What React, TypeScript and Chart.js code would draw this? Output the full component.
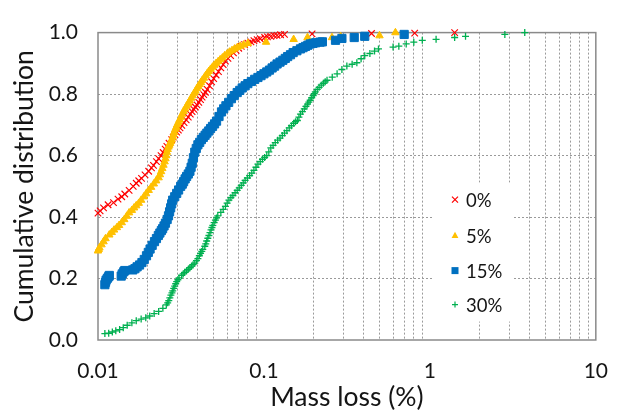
import React, { useEffect, useRef } from 'react';
import { Chart, registerables } from 'chart.js';

Chart.register(...registerables);

// ---- Series labels / ticks ----
const SERIES_LABELS = ['0%', '5%', '15%', '30%'];
const X_MAJOR = [0.01, 0.1, 1, 10];
const X_TICK_LABELS = ['0.01', '0.1', '1', '10'];
const X_MINOR_MULT = [2, 3, 4, 5, 6, 7, 8, 9];
const Y_TICKS = [0, 0.2, 0.4, 0.6, 0.8, 1.0];

// ---- 0% : [mass loss %, cumulative fraction] ----
const s0: [number, number][] = [
  [0.0100, 0.413], [0.0103, 0.420], [0.0108, 0.430], [0.0115, 0.440], [0.0124, 0.447], [0.0132, 0.458],
  [0.0139, 0.466], [0.0145, 0.475], [0.0154, 0.487], [0.0163, 0.500], [0.0170, 0.510], [0.0176, 0.518],
  [0.0183, 0.526], [0.0192, 0.537], [0.0202, 0.549], [0.0210, 0.560], [0.0216, 0.568], [0.0225, 0.580],
  [0.0232, 0.590], [0.0240, 0.600], [0.0247, 0.610], [0.0254, 0.621], [0.0260, 0.630], [0.0268, 0.640],
  [0.0278, 0.652], [0.0284, 0.660], [0.0291, 0.668], [0.0298, 0.676], [0.0305, 0.683], [0.0312, 0.690],
  [0.0320, 0.698], [0.0330, 0.707], [0.0340, 0.716], [0.0350, 0.725], [0.0360, 0.735], [0.0369, 0.743],
  [0.0378, 0.750], [0.0386, 0.758], [0.0395, 0.765], [0.0405, 0.773], [0.0415, 0.782], [0.0424, 0.790],
  [0.0434, 0.798], [0.0444, 0.806], [0.0455, 0.815], [0.0470, 0.827], [0.0484, 0.840], [0.0498, 0.850],
  [0.0515, 0.862], [0.0532, 0.873], [0.0550, 0.885], [0.0568, 0.896], [0.0586, 0.907], [0.0607, 0.916],
  [0.0630, 0.925], [0.0655, 0.934], [0.0680, 0.942], [0.0705, 0.949], [0.0730, 0.955], [0.0765, 0.961],
  [0.0800, 0.966], [0.0835, 0.970], [0.0870, 0.974], [0.0910, 0.977], [0.0950, 0.980], [0.1010, 0.984],
  [0.1050, 0.986], [0.1100, 0.988], [0.1150, 0.990], [0.1200, 0.991], [0.1260, 0.993], [0.1330, 0.994],
  [0.1950, 0.996], [0.4450, 0.997], [0.8100, 0.998], [1.4100, 1.000],
];

// ---- 5% ----
const s5: [number, number][] = [
  [0.0100, 0.290], [0.0101, 0.295], [0.0102, 0.300], [0.0105, 0.310], [0.0108, 0.320], [0.0111, 0.330],
  [0.0117, 0.342], [0.0121, 0.350], [0.0125, 0.358], [0.0130, 0.366], [0.0134, 0.373], [0.0139, 0.382],
  [0.0144, 0.392], [0.0149, 0.403], [0.0154, 0.414], [0.0160, 0.422], [0.0165, 0.430], [0.0170, 0.437],
  [0.0176, 0.445], [0.0182, 0.455], [0.0189, 0.466], [0.0195, 0.476], [0.0202, 0.487], [0.0209, 0.497],
  [0.0217, 0.508], [0.0224, 0.518], [0.0232, 0.528], [0.0236, 0.538], [0.0240, 0.548], [0.0244, 0.558],
  [0.0248, 0.569], [0.0252, 0.580], [0.0255, 0.590], [0.0258, 0.600], [0.0260, 0.611], [0.0263, 0.620],
  [0.0266, 0.628], [0.0269, 0.634], [0.0272, 0.640], [0.0275, 0.646], [0.0278, 0.652], [0.0282, 0.660],
  [0.0285, 0.668], [0.0288, 0.676], [0.0292, 0.685], [0.0296, 0.692], [0.0300, 0.700], [0.0305, 0.708],
  [0.0310, 0.716], [0.0316, 0.725], [0.0322, 0.735], [0.0328, 0.744], [0.0335, 0.752], [0.0342, 0.761],
  [0.0350, 0.770], [0.0357, 0.778], [0.0365, 0.787], [0.0372, 0.795], [0.0380, 0.803], [0.0387, 0.810],
  [0.0395, 0.818], [0.0402, 0.825], [0.0410, 0.832], [0.0417, 0.838], [0.0425, 0.845], [0.0435, 0.852],
  [0.0445, 0.860], [0.0455, 0.867], [0.0465, 0.874], [0.0477, 0.881], [0.0490, 0.888], [0.0502, 0.894],
  [0.0515, 0.900], [0.0530, 0.906], [0.0545, 0.912], [0.0562, 0.918], [0.0580, 0.925], [0.0600, 0.931],
  [0.0620, 0.937], [0.0642, 0.942], [0.0665, 0.947], [0.0692, 0.952], [0.0720, 0.956], [0.0755, 0.960],
  [0.0800, 0.965], [0.1030, 0.969], [0.1510, 0.978], [0.1830, 0.984], [0.2570, 0.984], [0.2900, 0.987],
  [0.4970, 0.990], [0.6200, 1.000],
];

// ---- 15% ----
const s15: [number, number][] = [
  [0.0110, 0.180], [0.0111, 0.188], [0.0112, 0.195], [0.0114, 0.201], [0.0116, 0.206], [0.0117, 0.210],
  [0.0138, 0.208], [0.0140, 0.215], [0.0143, 0.222], [0.0145, 0.226],
  [0.0162, 0.228], [0.0167, 0.232], [0.0172, 0.238], [0.0178, 0.244], [0.0184, 0.252],
  [0.0190, 0.262], [0.0196, 0.274], [0.0201, 0.285], [0.0206, 0.296], [0.0212, 0.308],
  [0.0219, 0.320], [0.0225, 0.330], [0.0231, 0.340], [0.0236, 0.348], [0.0241, 0.356],
  [0.0245, 0.362], [0.0250, 0.371], [0.0255, 0.380], [0.0261, 0.392], [0.0266, 0.404], [0.0270, 0.417],
  [0.0274, 0.430], [0.0278, 0.443], [0.0282, 0.455], [0.0290, 0.466], [0.0298, 0.477], [0.0306, 0.488],
  [0.0315, 0.500], [0.0322, 0.507], [0.0328, 0.515], [0.0335, 0.524], [0.0342, 0.532], [0.0350, 0.540],
  [0.0358, 0.549], [0.0364, 0.562], [0.0370, 0.575], [0.0376, 0.593], [0.0383, 0.611], [0.0391, 0.623],
  [0.0400, 0.635], [0.0410, 0.643], [0.0420, 0.652], [0.0431, 0.659], [0.0442, 0.666], [0.0453, 0.673],
  [0.0465, 0.680], [0.0477, 0.688], [0.0490, 0.695], [0.0504, 0.703], [0.0518, 0.712], [0.0536, 0.727],
  [0.0555, 0.742], [0.0572, 0.752], [0.0590, 0.762], [0.0613, 0.773], [0.0637, 0.785], [0.0662, 0.795],
  [0.0690, 0.805], [0.0715, 0.812], [0.0740, 0.820], [0.0770, 0.827], [0.0800, 0.834], [0.0840, 0.841],
  [0.0880, 0.848], [0.0920, 0.854], [0.0960, 0.860], [0.1000, 0.866], [0.1040, 0.872], [0.1080, 0.878],
  [0.1120, 0.885], [0.1160, 0.891], [0.1200, 0.898], [0.1250, 0.904], [0.1300, 0.910], [0.1345, 0.916],
  [0.1390, 0.922], [0.1445, 0.928], [0.1500, 0.935], [0.1580, 0.941], [0.1660, 0.947], [0.1720, 0.951],
  [0.1780, 0.955], [0.1840, 0.959], [0.1900, 0.963], [0.1975, 0.965], [0.2050, 0.967], [0.2180, 0.969],
  [0.2250, 0.970], [0.2700, 0.975], [0.2950, 0.981], [0.3500, 0.984], [0.4050, 0.988], [0.7000, 0.994],
];

// ---- 30% ----
const s30: [number, number][] = [
  [0.0110, 0.021], [0.0116, 0.022], [0.0122, 0.026], [0.0128, 0.030], [0.0135, 0.034], [0.0142, 0.040],
  [0.0150, 0.048], [0.0160, 0.056], [0.0170, 0.063], [0.0182, 0.068], [0.0194, 0.072], [0.0205, 0.078],
  [0.0218, 0.086], [0.0232, 0.093], [0.0246, 0.103], [0.0258, 0.114], [0.0263, 0.121], [0.0267, 0.128],
  [0.0271, 0.137], [0.0275, 0.146], [0.0279, 0.153], [0.0282, 0.160], [0.0286, 0.168], [0.0290, 0.175],
  [0.0294, 0.183], [0.0298, 0.190], [0.0303, 0.196], [0.0308, 0.202], [0.0319, 0.210], [0.0326, 0.215],
  [0.0333, 0.220], [0.0342, 0.225], [0.0350, 0.230], [0.0358, 0.235], [0.0366, 0.240], [0.0374, 0.245],
  [0.0383, 0.250], [0.0392, 0.258], [0.0400, 0.265], [0.0408, 0.274], [0.0415, 0.282], [0.0422, 0.288],
  [0.0428, 0.295], [0.0440, 0.305], [0.0446, 0.313], [0.0452, 0.322], [0.0459, 0.331], [0.0466, 0.340],
  [0.0473, 0.349], [0.0480, 0.358], [0.0486, 0.366], [0.0492, 0.373], [0.0501, 0.382], [0.0510, 0.390],
  [0.0518, 0.397], [0.0527, 0.404], [0.0550, 0.415], [0.0568, 0.425], [0.0586, 0.435], [0.0600, 0.445],
  [0.0615, 0.455], [0.0632, 0.463], [0.0650, 0.470], [0.0670, 0.479], [0.0690, 0.487], [0.0710, 0.495],
  [0.0730, 0.503], [0.0750, 0.511], [0.0770, 0.519], [0.0795, 0.527], [0.0820, 0.535], [0.0845, 0.543],
  [0.0870, 0.552], [0.0895, 0.562], [0.0920, 0.572], [0.0950, 0.580], [0.0980, 0.588], [0.1010, 0.594],
  [0.1040, 0.600], [0.1070, 0.612], [0.1100, 0.625], [0.1135, 0.633], [0.1170, 0.642], [0.1210, 0.650],
  [0.1250, 0.657], [0.1290, 0.665], [0.1330, 0.673], [0.1375, 0.681], [0.1420, 0.690], [0.1465, 0.697],
  [0.1510, 0.705], [0.1550, 0.710], [0.1590, 0.714], [0.1625, 0.725], [0.1660, 0.735], [0.1705, 0.743],
  [0.1750, 0.752], [0.1790, 0.760], [0.1830, 0.767], [0.1865, 0.774], [0.1900, 0.780], [0.1940, 0.788],
  [0.1980, 0.795], [0.2010, 0.801], [0.2040, 0.807], [0.2095, 0.815], [0.2150, 0.822], [0.2215, 0.829],
  [0.2280, 0.835], [0.2340, 0.840], [0.2400, 0.845], [0.2580, 0.855], [0.2760, 0.866], [0.2950, 0.880],
  [0.3160, 0.891], [0.3400, 0.897], [0.3630, 0.902], [0.3850, 0.915], [0.4050, 0.925], [0.4350, 0.932],
  [0.4640, 0.940], [0.4900, 0.947], [0.6000, 0.953], [0.6500, 0.956], [0.7200, 0.963], [0.8000, 0.969],
  [0.9000, 0.975], [1.0900, 0.978], [1.4100, 0.984], [1.6400, 0.988], [2.8300, 0.994], [3.7300, 1.000],
];

const SERIES = [s0, s5, s15, s30];

// ---- Styles ----
const COLORS = ['#FF0000', '#FFC000', '#0070C0', '#00B050'];
const POINT_STYLES = ['crossRot', 'triangle', 'rect', 'cross'];
const POINT_RADII = [4.6, 4.3, 5.8, 3.5];
const POINT_BORDER = [1.15, 1, 1, 1.3];
const FONT = 'Lato, "Open Sans", sans-serif';
const TEXT_COLOR = '#151515';
const GRID_COLOR = '#9a9a9a';
const FRAME_COLOR = '#8a8a8a';

const framePlugin = {
  id: 'frame',
  beforeDatasetsDraw(chart: any) {
    const { ctx, chartArea } = chart;
    const { left, top, right, bottom } = chartArea;
    ctx.save();
    ctx.strokeStyle = FRAME_COLOR;
    ctx.lineWidth = 1.5;
    ctx.strokeRect(left, top, right - left, bottom - top);
    ctx.restore();
  },
};

function drawMarker(ctx: CanvasRenderingContext2D, style: string, x: number, y: number, color: string) {
  ctx.save();
  ctx.strokeStyle = color;
  ctx.fillStyle = color;
  ctx.lineWidth = 1.2;
  ctx.beginPath();
  if (style === 'crossRot') {
    const r = 3;
    ctx.moveTo(x - r, y - r); ctx.lineTo(x + r, y + r);
    ctx.moveTo(x + r, y - r); ctx.lineTo(x - r, y + r);
    ctx.stroke();
  } else if (style === 'triangle') {
    const r = 3.8;
    ctx.moveTo(x, y - r);
    ctx.lineTo(x + r * 0.9, y + r * 0.6);
    ctx.lineTo(x - r * 0.9, y + r * 0.6);
    ctx.closePath();
    ctx.fill();
  } else if (style === 'rect') {
    ctx.fillRect(x - 3.5, y - 3.5, 7, 7);
  } else {
    const r = 3;
    ctx.moveTo(x - r, y); ctx.lineTo(x + r, y);
    ctx.moveTo(x, y - r); ctx.lineTo(x, y + r);
    ctx.stroke();
  }
  ctx.restore();
}

const legendPlugin = {
  id: 'innerLegend',
  afterDatasetsDraw(chart: any) {
    const { ctx, chartArea } = chart;
    const { left, top } = chartArea;
    const boxX = left + 335;
    const boxY = top + 150;
    ctx.save();
    ctx.fillStyle = '#ffffff';
    ctx.fillRect(boxX, boxY, 80, 139);
    ctx.font = `18.5px ${FONT}`;
    ctx.textBaseline = 'middle';
    ctx.textAlign = 'left';
    const rowY = [17, 53, 88, 122];
    SERIES_LABELS.forEach((lab, i) => {
      const cy = boxY + rowY[i];
      drawMarker(ctx, POINT_STYLES[i], boxX + 22, cy, COLORS[i]);
      ctx.fillStyle = TEXT_COLOR;
      ctx.fillText(lab, boxX + 33, cy + 1);
    });
    ctx.restore();
  },
};

export default function App() {
  const ref = useRef<HTMLCanvasElement | null>(null);

  useEffect(() => {
    document.body.style.margin = '0';
    const canvas = ref.current;
    if (!canvas) return;

    const datasets = SERIES_LABELS.map((label, i) => ({
      type: 'scatter' as const,
      label,
      data: SERIES[i].map(([x, y]) => ({ x, y })),
      pointStyle: POINT_STYLES[i],
      pointRadius: POINT_RADII[i],
      pointBorderWidth: POINT_BORDER[i],
      borderColor: COLORS[i],
      backgroundColor: COLORS[i],
      showLine: false,
      clip: false as any,
      order: SERIES_LABELS.length - i,
    }));

    const chart = new Chart(canvas, {
      type: 'scatter',
      data: { datasets },
      options: {
        responsive: false,
        animation: false,
        devicePixelRatio: 1,
        layout: { padding: { left: 0, right: 25, top: 18, bottom: 0 } },
        plugins: {
          legend: { display: false },
          tooltip: { enabled: false },
        },
        scales: {
          x: {
            type: 'logarithmic',
            min: X_MAJOR[0],
            max: X_MAJOR[X_MAJOR.length - 1],
            afterBuildTicks: (scale: any) => {
              const ticks: { value: number }[] = [];
              X_MAJOR.forEach((m, k) => {
                ticks.push({ value: m });
                if (k < X_MAJOR.length - 1) {
                  X_MINOR_MULT.forEach((mm) => ticks.push({ value: +(m * mm).toPrecision(6) }));
                }
              });
              scale.ticks = ticks;
            },
            afterFit: (scale: any) => { scale.height = 77; },
            grid: {
              drawTicks: false,
              color: (c: any) => (c.tick && X_MAJOR.includes(c.tick.value) ? 'rgba(0,0,0,0)' : GRID_COLOR),
              lineWidth: 1,
            },
            border: { display: false, dash: [2, 2] },
            ticks: {
              autoSkip: false,
              maxRotation: 0,
              padding: 19,
              color: TEXT_COLOR,
              font: { family: FONT, size: 21 },
              callback: (v: any) => {
                const k = X_MAJOR.indexOf(Number(v));
                return k >= 0 ? X_TICK_LABELS[k] : '';
              },
            },
            title: {
              display: true,
              text: 'Mass loss (%)',
              color: TEXT_COLOR,
              font: { family: FONT, size: 26.5 },
              padding: { top: 0, bottom: 4 },
            },
          },
          y: {
            type: 'linear',
            min: Y_TICKS[0],
            max: Y_TICKS[Y_TICKS.length - 1],
            afterBuildTicks: (scale: any) => {
              scale.ticks = Y_TICKS.map((v) => ({ value: v }));
            },
            afterFit: (scale: any) => { scale.width = 98; },
            grid: {
              drawTicks: false,
              color: (c: any) => (c.tick && c.tick.value > 0.001 && c.tick.value < 0.999 ? GRID_COLOR : 'rgba(0,0,0,0)'),
              lineWidth: 1,
            },
            border: { display: false, dash: [2, 2] },
            ticks: {
              padding: 20,
              color: TEXT_COLOR,
              font: { family: FONT, size: 21 },
              callback: (v: any) => Number(v).toFixed(1),
            },
            title: {
              display: true,
              text: 'Cumulative distribution',
              color: TEXT_COLOR,
              font: { family: FONT, size: 26.5 },
              padding: { top: 9, bottom: 0 },
            },
          },
        },
      },
      plugins: [framePlugin, legendPlugin],
    });

    return () => chart.destroy();
  }, []);

  return (
    <div style={{ width: 627, height: 417 }}>
      <canvas ref={ref} width={627} height={417} style={{ display: 'block', width: 627, height: 417 }} />
    </div>
  );
}
